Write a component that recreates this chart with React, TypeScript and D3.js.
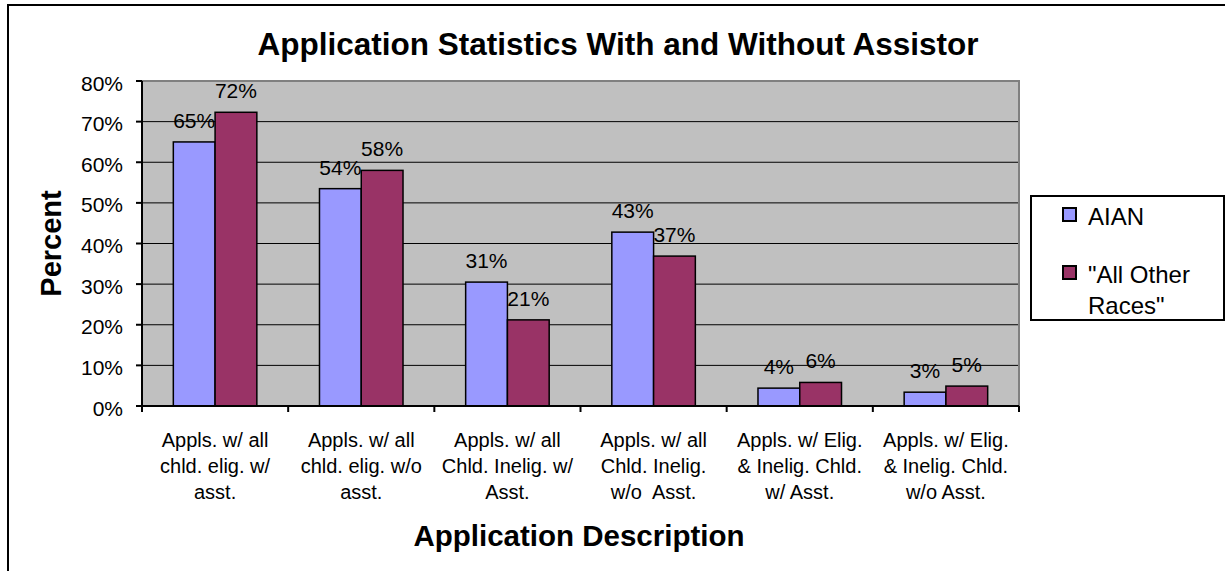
import React from "react";
import * as d3 from "d3";

const categories: string[][] = [
  ["Appls. w/ all", "chld. elig. w/", "asst."],
  ["Appls. w/ all", "chld. elig. w/o", "asst."],
  ["Appls. w/ all", "Chld. Inelig. w/", "Asst."],
  ["Appls. w/ all", "Chld. Inelig.", "w/o  Asst."],
  ["Appls. w/ Elig.", "& Inelig. Chld.", "w/ Asst."],
  ["Appls. w/ Elig.", "& Inelig. Chld.", "w/o Asst."],
];
const seriesNames = ["AIAN", "\"All Other Races\""];
const legendLines = [["AIAN"], ["\"All Other", "Races\""]];
const aian = [0.65, 0.535, 0.305, 0.428, 0.044, 0.034];
const allOther = [0.723, 0.58, 0.212, 0.369, 0.058, 0.049];
const labelsAian = ["65%", "54%", "31%", "43%", "4%", "3%"];
const labelsOther = ["72%", "58%", "21%", "37%", "6%", "5%"];
const yTicks = [0, 0.1, 0.2, 0.3, 0.4, 0.5, 0.6, 0.7, 0.8];
const colors = ["#9999FF", "#993366"];

const W = 1225;
const H = 571;
const plot = { left: 142, right: 1019, top: 81, bottom: 406 };
const FONT = "Arial, 'Liberation Sans', Helvetica, sans-serif";

export default function App() {
  const idx = categories.map((_, i) => String(i));
  const x0 = d3.scaleBand<string>().domain(idx).range([plot.left, plot.right]).paddingInner(0).paddingOuter(0);
  const x1 = d3
    .scaleBand<string>()
    .domain(["0", "1"])
    .range([0, x0.bandwidth()])
    .paddingInner(0)
    .paddingOuter(0.75);
  const y = d3.scaleLinear().domain([0, 0.8]).range([plot.bottom, plot.top]);
  const series = [aian, allOther];
  const labels = [labelsAian, labelsOther];
  const fmt = d3.format(".0%");

  return (
    <svg
      width={W}
      height={H}
      style={{ position: "absolute", left: 0, top: 0, background: "#fff" }}
      fontFamily={FONT}
    >
      <rect x={8} y={5} width={1240} height={600} fill="#fff" stroke="#000" strokeWidth={2} />
      {/* plot area */}
      <rect
        x={plot.left}
        y={plot.top}
        width={plot.right - plot.left}
        height={plot.bottom - plot.top}
        fill="#C0C0C0"
      />
      {/* gridlines */}
      {yTicks.slice(1, -1).map((t) => (
        <line key={t} x1={plot.left} x2={plot.right} y1={y(t)} y2={y(t)} stroke="#000" strokeWidth={1} />
      ))}
      {/* plot border top/right */}
      <path
        d={`M${plot.left},${plot.top}H${plot.right}V${plot.bottom}`}
        fill="none"
        stroke="#808080"
        strokeWidth={2}
      />
      {/* bars */}
      {series.map((s, si) =>
        s.map((v, ci) => {
          const bx = (x0(String(ci)) ?? 0) + (x1(String(si)) ?? 0);
          return (
            <rect
              key={`${si}-${ci}`}
              x={bx}
              y={y(v)}
              width={x1.bandwidth()}
              height={y(0) - y(v)}
              fill={colors[si]}
              stroke="#000"
              strokeWidth={1.5}
            />
          );
        })
      )}
      {/* data labels */}
      {series.map((s, si) =>
        s.map((v, ci) => {
          const cx = (x0(String(ci)) ?? 0) + (x1(String(si)) ?? 0) + x1.bandwidth() / 2;
          return (
            <text
              key={`l${si}-${ci}`}
              x={cx}
              y={y(v) - 14}
              textAnchor="middle"
              fontSize={21}
              fill="#000"
            >
              {labels[si][ci]}
            </text>
          );
        })
      )}
      {/* y axis */}
      <line x1={plot.left} x2={plot.left} y1={plot.top} y2={plot.bottom} stroke="#000" strokeWidth={2} />
      {yTicks.map((t) => (
        <g key={`yt${t}`}>
          <line x1={plot.left - 6} x2={plot.left} y1={y(t)} y2={y(t)} stroke="#000" strokeWidth={2} />
          <text x={123} y={y(t) + 9.5} textAnchor="end" fontSize={21} fill="#000">
            {fmt(t)}
          </text>
        </g>
      ))}
      {/* x axis */}
      <line x1={plot.left - 6} x2={plot.right} y1={plot.bottom} y2={plot.bottom} stroke="#000" strokeWidth={2} />
      {d3.range(categories.length + 1).map((i) => {
        const tx = plot.left + i * x0.step();
        return <line key={`xt${i}`} x1={tx} x2={tx} y1={plot.bottom} y2={plot.bottom + 6} stroke="#000" strokeWidth={2} />;
      })}
      {categories.map((lines, ci) => (
        <text
          key={`c${ci}`}
          x={(x0(String(ci)) ?? 0) + x0.bandwidth() / 2}
          y={446.5}
          textAnchor="middle"
          fontSize={20}
          fill="#000"
          style={{ whiteSpace: "pre" }}
        >
          {lines.map((ln, li) => (
            <tspan key={li} x={(x0(String(ci)) ?? 0) + x0.bandwidth() / 2} dy={li === 0 ? 0 : 26.4}>
              {ln}
            </tspan>
          ))}
        </text>
      ))}
      {/* titles */}
      <text x={618} y={55} textAnchor="middle" fontSize={31.5} fontWeight="bold" fill="#000">
        Application Statistics With and Without Assistor
      </text>
      <text x={579} y={546} textAnchor="middle" fontSize={29.5} fontWeight="bold" fill="#000">
        Application Description
      </text>
      <text
        transform={`translate(61,${(plot.top + plot.bottom) / 2}) rotate(-90)`}
        textAnchor="middle"
        fontSize={29}
        fontWeight="bold"
        fill="#000"
      >
        Percent
      </text>
      {/* legend */}
      <rect x={1031} y={196} width={193} height={124} fill="#fff" stroke="#000" strokeWidth={2} />
      {seriesNames.map((name, si) => {
        const top = si === 0 ? 208 : 266;
        const base = si === 0 ? 225 : 283;
        return (
          <g key={name}>
            <rect x={1063} y={top} width={13} height={13} fill={colors[si]} stroke="#000" strokeWidth={2} />
            <text x={1088} y={base} fontSize={24} fill="#000">
              {legendLines[si].map((ln, li) => (
                <tspan key={li} x={1088} dy={li === 0 ? 0 : 31}>
                  {ln}
                </tspan>
              ))}
            </text>
          </g>
        );
      })}
    </svg>
  );
}
